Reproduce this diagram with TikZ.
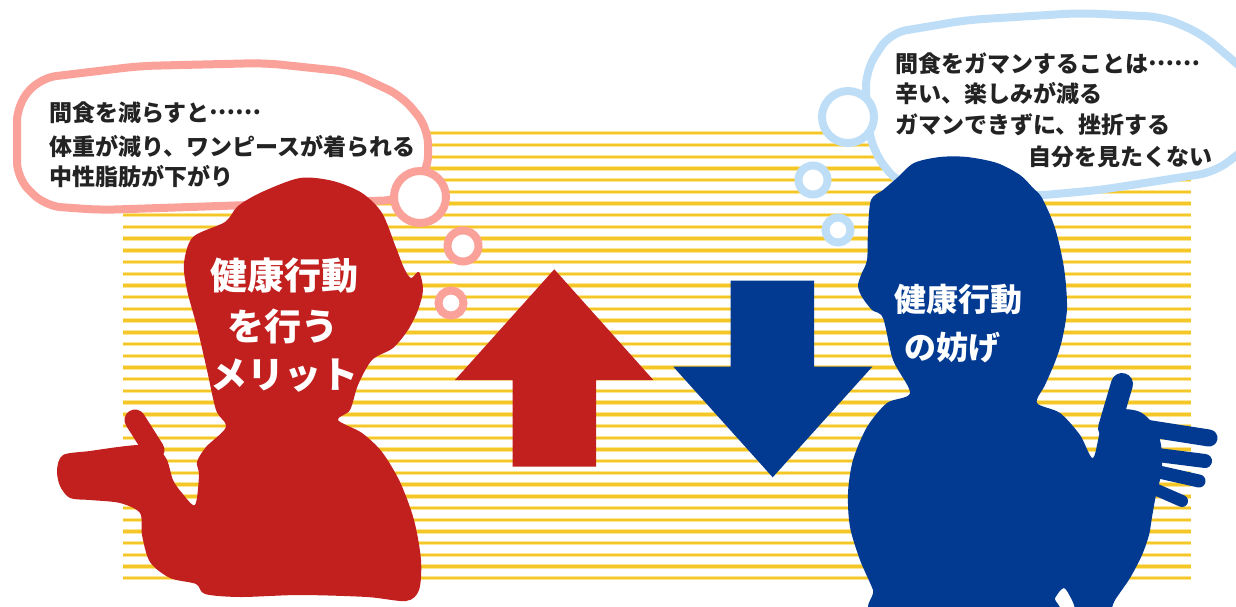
\documentclass[tikz,border=0pt]{standalone}
\usepackage{fontspec}
\setmainfont{Noto Sans CJK JP}
\definecolor{stripegold}{RGB}{245,198,40}
\definecolor{stripelight}{RGB}{252,230,150}
\definecolor{merit}{RGB}{194,32,31}
\definecolor{barrier}{RGB}{2,58,145}
\definecolor{pinkline}{RGB}{250,162,154}
\definecolor{blueline}{RGB}{190,222,248}
\definecolor{ink}{RGB}{35,35,35}
% ellipsis set at mid-height, as in Japanese typesetting
\newcommand{\midellip}{\raisebox{0.3em}{……}}
\begin{document}
\begin{tikzpicture}[x=1pt,y=-1pt,
  stripeback/.style={draw=stripelight,line width=4.4pt},
  stripefront/.style={draw=stripegold,line width=2.4pt},
  pinkbubble/.style={draw=pinkline,line width=8pt,fill=white,rounded corners=16pt},
  bluebubble/.style={draw=blueline,line width=8pt,fill=white,rounded corners=16pt},
  pinkring/.style={draw=pinkline,line width=8pt,fill=white},
  bluering/.style={draw=blueline,line width=8pt,fill=white},
  saytext/.style={anchor=west,inner sep=0pt,text=ink,
    font=\bfseries\fontsize{23}{23}\selectfont,text height=20.2pt,text depth=2.8pt},
  redtitle/.style={anchor=center,inner sep=0pt,text=white,
    font=\bfseries\fontsize{37}{37}\selectfont,text height=32.5pt,text depth=4.5pt},
  bluetitle/.style={anchor=center,inner sep=0pt,text=white,
    font=\bfseries\fontsize{32}{32}\selectfont,text height=28.2pt,text depth=3.8pt},
  finger/.style={draw=barrier,line cap=round}]
\useasboundingbox (0,0) rectangle (1236,607);
\clip (0,0) rectangle (1236,607);
\fill[white] (0,0) rectangle (1236,607);

% horizontal stripes of the background panel
\foreach \k in {0,...,38}{
  \draw[stripeback] (123,{133.3+11.71*\k}) -- (1191,{133.3+11.71*\k});
  \draw[stripefront] (123,{133.3+11.71*\k}) -- (1191,{133.3+11.71*\k});
}

% thought bubble, left
\draw[pinkbubble] (17,105) -- (40,78) -- (140,66) -- (265,63) -- (350,72) -- (402,96)
  -- (428,128) -- (428,172) -- (400,200) -- (100,210) -- (45,206) -- (17,178) -- cycle;
\draw[pinkring] (420,197) circle (26);
\draw[pinkring] (463,246) circle (15.5);
\draw[pinkring] (451,303) circle (12.5);

% thought bubble, right
\draw[bluebubble] (866,118) -- (866,70) -- (890,33) -- (967,20) -- (1080,13) -- (1163,17)
  -- (1202,34) -- (1250,75) -- (1250,145) -- (1215,172) -- (1100,190) -- (1033,196)
  -- (900,185) -- (875,155) -- cycle;
\draw[bluering] (848,117) circle (26);
\draw[bluering] (813,180) circle (14.5);
\draw[bluering] (838,230) circle (12.5);

% arrows
\fill[merit] (554.3,269.3) -- (653.3,380) -- (596,380) -- (596,466.7) -- (512.7,466.7)
  -- (512.7,380) -- (455,380) -- cycle;
\fill[barrier] (730.7,280.7) -- (814,280.7) -- (814,366.7) -- (872.3,366.7) -- (772.7,477.3)
  -- (673.3,366.7) -- (730.7,366.7) -- cycle;

% red figure
\fill[merit] plot[smooth cycle,tension=0.5] coordinates {
  (300,178) (333,181) (362,193) (382,213) (395,245) (404,268) (411,278) (419,272)
  (423,290) (418,310) (408,330) (393,348) (372,360) (358,385) (350,410) (338,420)
  (362,433) (382,452) (400,482) (414,520) (421,560) (419,590) (406,601) (367,597)
  (300,595) (240,597) (205,594) (196,584) (170,578) (150,562) (142,535) (140,513)
  (120,503) (90,500) (70,498) (60,486) (57,470) (63,455) (90,451) (118,447)
  (140,445) (157,448) (167,460) (173,480) (182,493) (195,505) (199,475) (197,462)
  (206,447) (226,427) (216,410) (207,370) (197,327) (187,290) (184,263) (193,237)
  (225,222) (238,206) (262,192)};
\draw[merit,line width=21pt,line cap=round] (154,450) -- (135,420);

% blue figure
\fill[barrier] plot[smooth cycle,tension=0.5] coordinates {
  (940,157) (967,157) (997,163) (1020,175) (1033,188) (1042,198) (1055,228) (1064,268)
  (1067,308) (1062,340) (1055,362) (1045,385) (1037,403) (1060,413) (1080,435)
  (1093,458) (1102,425) (1118,410) (1140,412) (1156,428) (1162,452) (1161,475)
  (1156,495) (1152,517) (1149,535) (1142,555) (1130,578) (1115,600) (1107,615)
  (1080,615) (1072,600) (1064,588) (1055,598) (1048,615) (880,615) (873,590)
  (860,560) (850,527) (848,493) (853,460) (867,427) (887,403) (910,393) (893,360)
  (883,318) (872,310) (862,297) (858,286) (861,275) (867,260) (868,230) (871,200)
  (883,190) (897,178) (914,163)};
\draw[finger,line width=22pt] (1109,428) -- (1122,384);
\draw[finger,line width=17pt] (1145,428) -- (1209,438);
\draw[finger,line width=14pt] (1150,454) -- (1205,461);
\draw[finger,line width=13pt] (1150,470) -- (1199,481);
\draw[finger,line width=12pt] (1150,487) -- (1182,501);

% speech texts
\node[saytext] (l1) at (49,113) {間食を減らすと\midellip};
\node[saytext] (l2) at (49,147) {体重が減り、ワンピースが着られる};
\node[saytext] (l3) at (49,177) {中性脂肪が下がり};
\node[saytext] (r1) at (895,64) {間食をガマンすることは\midellip};
\node[saytext] (r2) at (895,94) {辛い、楽しみが減る};
\node[saytext] (r3) at (895,125) {ガマンできずに、挫折する};
\node[saytext] (r4) at (1028,157) {自分を見たくない};

% titles on the figures
\node[redtitle] (m1) at (284,275) {健康行動};
\node[redtitle] (m2) at (283,326) {を行う};
\node[redtitle] (m3) at (284,374) {メリット};
\node[bluetitle] (b1) at (958,299) {健康行動};
\node[bluetitle] (b2) at (952,347) {の妨げ};
\end{tikzpicture}
\end{document}
